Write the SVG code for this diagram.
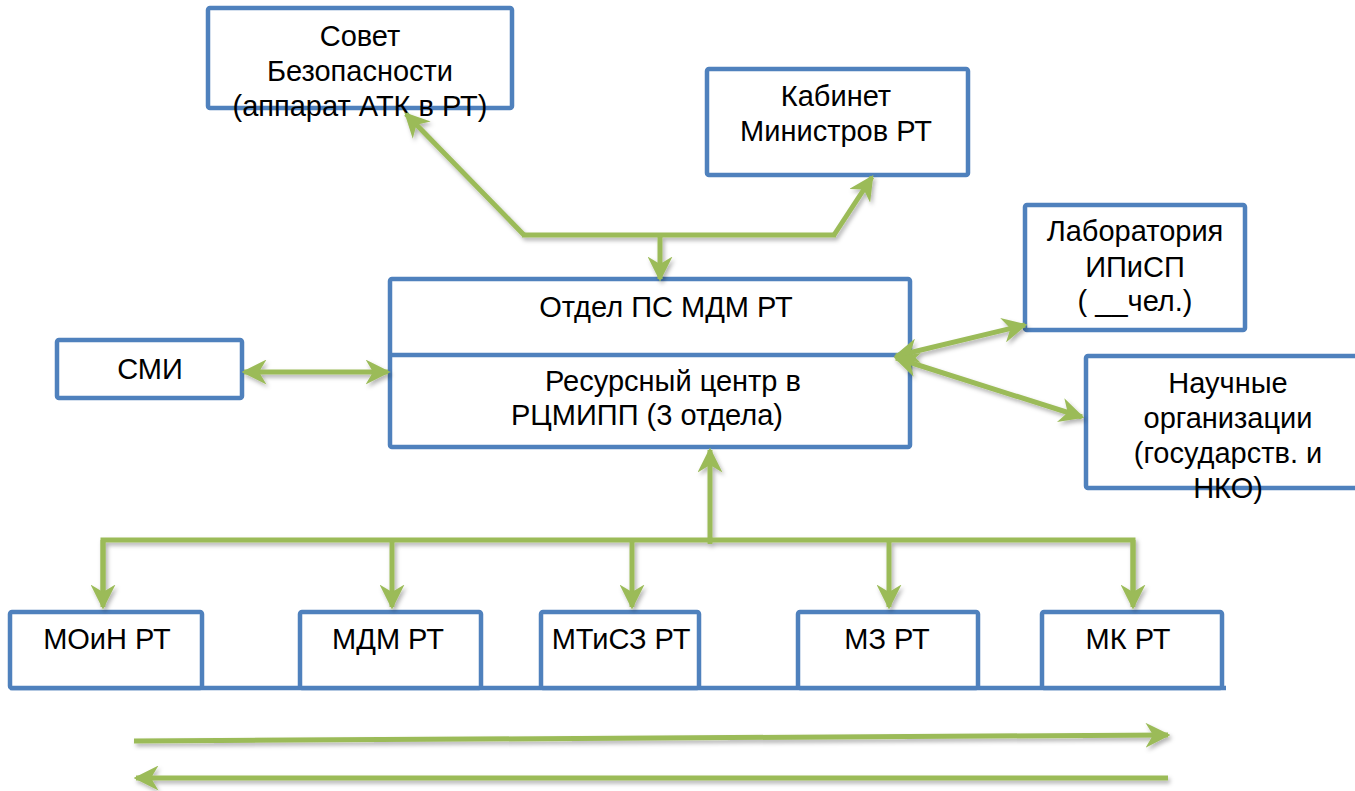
<svg xmlns="http://www.w3.org/2000/svg" width="1355" height="791" viewBox="0 0 1355 791">
<style>
.box{fill:#fff;stroke:#4F81BD;stroke-width:4.5}
.t{font-family:"Liberation Sans",Arial,sans-serif;font-size:29px;fill:#000;text-anchor:middle}
.c{fill:none;stroke:#9BBB59;stroke-width:5}
.a{marker-end:url(#ah)}
.d{marker-start:url(#ah);marker-end:url(#ah)}
</style>
<defs>
<marker id="ah" viewBox="0 0 10 10" refX="9" refY="5" markerWidth="5" markerHeight="5" orient="auto-start-reverse" markerUnits="strokeWidth">
<path d="M0,0 L10,5 L0,10 L3,5 z" fill="#9BBB59"/>
</marker>
<filter id="sh" x="-10%" y="-10%" width="120%" height="130%">
<feDropShadow dx="2" dy="3" stdDeviation="2" flood-color="#000" flood-opacity="0.3"/>
</filter>
</defs>
<rect width="1355" height="791" fill="#fff"/>
<g id="sovet"><rect class="box" x="208" y="8" width="304" height="100" rx="2"/>
<text class="t" x="360" y="46">Совет</text><text class="t" x="360" y="81">Безопасности</text><text class="t" x="360" y="116">(аппарат АТК в РТ)</text></g>
<g id="kabinet"><rect class="box" x="707" y="69" width="261" height="106" rx="2"/>
<text class="t" x="836" y="106">Кабинет</text><text class="t" x="836" y="141">Министров РТ</text></g>
<g id="center"><rect class="box" x="390" y="279" width="520" height="168" rx="2"/>
<line x1="390" y1="355" x2="910" y2="355" stroke="#4F81BD" stroke-width="4.5"/>
<text class="t" x="666" y="317">Отдел ПС МДМ РТ</text>
<text class="t" x="673" y="391">Ресурсный центр в</text><text class="t" x="647" y="425">РЦМИПП (3 отдела)</text></g>
<g id="lab"><rect class="box" x="1025" y="205" width="220" height="125" rx="2"/>
<text class="t" x="1135" y="241">Лаборатория</text><text class="t" x="1135" y="277">ИПиСП</text><text class="t" x="1135" y="311">( __чел.)</text></g>
<g id="nauch"><rect class="box" x="1086" y="356" width="290" height="132" rx="2"/>
<text class="t" x="1228" y="393">Научные</text><text class="t" x="1228" y="428">организации</text><text class="t" x="1228" y="463">(государств. и</text><text class="t" x="1228" y="498">НКО)</text></g>
<g id="smi"><rect class="box" x="57" y="340" width="185" height="58" rx="2"/>
<text class="t" x="150" y="379">СМИ</text></g>
<line x1="10" y1="688" x2="1226" y2="688" stroke="#4F81BD" stroke-width="4.5"/>
<g id="moin"><rect class="box" x="10" y="612" width="192" height="76" rx="2"/><text class="t" x="107" y="649">МОиН РТ</text></g>
<g id="mdm"><rect class="box" x="300" y="612" width="181" height="76" rx="2"/><text class="t" x="388" y="649">МДМ РТ</text></g>
<g id="mtisz"><rect class="box" x="541" y="612" width="158" height="76" rx="2"/><text class="t" x="621" y="649">МТиСЗ РТ</text></g>
<g id="mz"><rect class="box" x="798" y="612" width="180" height="76" rx="2"/><text class="t" x="887" y="649">МЗ РТ</text></g>
<g id="mk"><rect class="box" x="1042" y="612" width="180" height="76" rx="2"/><text class="t" x="1128" y="649">МК РТ</text></g>
<g id="connectors" filter="url(#sh)">
<line class="c" x1="522" y1="235" x2="836" y2="235"/>
<line class="c a" x1="524" y1="235" x2="406" y2="114"/>
<line class="c a" x1="834" y1="235" x2="872" y2="177"/>
<line class="c a" x1="660" y1="235" x2="660" y2="279"/>
<line class="c d" x1="244" y1="372" x2="388" y2="372"/>
<line class="c d" x1="896" y1="356" x2="1025" y2="325"/>
<line class="c d" x1="896" y1="358" x2="1082" y2="417"/>
<line class="c a" x1="710" y1="544" x2="710" y2="450"/>
<polyline class="c" points="103,600 103,540 1133,540 1133,600"/>
<line class="c a" x1="103" y1="540" x2="103" y2="607"/>
<line class="c a" x1="392" y1="540" x2="392" y2="607"/>
<line class="c a" x1="632" y1="540" x2="632" y2="607"/>
<line class="c a" x1="889" y1="540" x2="889" y2="607"/>
<line class="c a" x1="1133" y1="540" x2="1133" y2="607"/>
<line class="c a" x1="134" y1="741" x2="1168" y2="735"/>
<line class="c a" x1="1168" y1="778" x2="136" y2="778"/>
</g>
</svg>
